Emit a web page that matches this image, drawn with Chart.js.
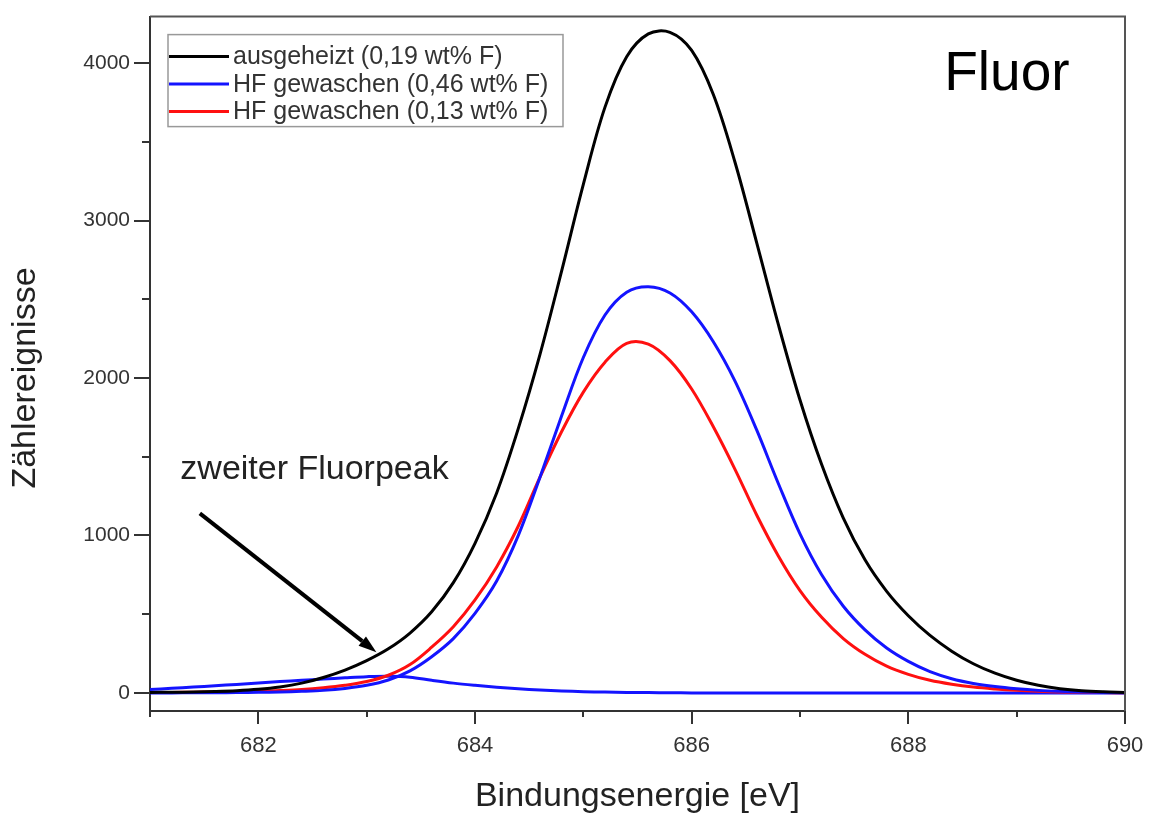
<!DOCTYPE html>
<html><head><meta charset="utf-8">
<script src="https://cdn.jsdelivr.net/npm/chart.js@4.4.1/dist/chart.umd.min.js"></script>
<style>html,body{margin:0;padding:0;background:#fff;}#wrap{width:1154px;height:817px;}</style>
</head><body><div id="wrap"><canvas id="c" width="1154" height="817"></canvas></div>
<script>
// ---- data ----
const energies = [681.0,681.2,681.4,681.6,681.8,682.0,682.2,682.4,682.6,682.8,683.0,683.2,683.4,683.6,683.8,684.0,684.2,684.4,684.6,684.8,685.0,685.2,685.4,685.6,685.8,686.0,686.2,686.4,686.6,686.8,687.0,687.2,687.4,687.6,687.8,688.0,688.2,688.4,688.6,688.8,689.0,689.2,689.4,689.6,689.8,690.0];
const seriesLabels = ['ausgeheizt (0,19 wt% F)','HF gewaschen (0,46 wt% F)','HF gewaschen (0,13 wt% F)'];
const ausgeheizt = [3,4,6,9,14,23,38,62,98,145,205,280,380,515,700,950,1270,1680,2150,2680,3230,3720,4040,4185,4195,4080,3800,3370,2860,2340,1860,1450,1110,845,645,490,365,265,185,125,80,48,27,14,7,3];
const hfGewaschen046 = [0,0,1,1,2,4,6,10,16,28,48,82,140,230,345,505,710,1000,1370,1760,2130,2400,2545,2580,2540,2420,2230,1980,1670,1330,1010,750,550,400,285,200,135,90,60,40,26,16,10,6,3,1];
const hfGewaschen013 = [2,3,4,6,8,11,15,21,32,48,72,112,180,290,420,590,800,1060,1370,1660,1910,2100,2220,2215,2110,1930,1690,1420,1130,870,650,480,345,245,170,118,80,55,37,25,16,10,6,4,2,1];
const zweiterFluorpeak = [22,29,37,45,54,63,72,80,88,96,103,106,100,80,62,48,36,26,18,12,8,5,3,2,1,0,0,0,0,0,0,0,0,0,0,0,0,0,0,0,0,0,0,0,0,0];
const xTickValues = [681,682,683,684,685,686,687,688,689,690];
const xTickLabels = ['','682','','684','','686','','688','','690'];
const yTickValues = [0,500,1000,1500,2000,2500,3000,3500,4000];
const yTickLabels = ['0','','1000','','2000','','3000','','4000'];
const xAxisTitle = 'Bindungsenergie [eV]';
const yAxisTitle = 'Zählereignisse';
const panelTitle = 'Fluor';
const arrowLabel = 'zweiter Fluorpeak';
const arrowFrom = {x: 681.46, y: 1140};
const arrowTo = {x: 683.09, y: 258};
const arrowLabelPos = {x: 681.28, y: 1417};
const panelTitlePos = {x: 688.91, y: 3924};

const FONT = "'Liberation Sans', Arial, sans-serif";
const colors = ['#000000', '#1414ff', '#ff1010'];
const pts = arr => energies.map((e, i) => ({x: e, y: arr[i]}));

const ds = (label, arr, color) => ({
  label, data: pts(arr), borderColor: color, backgroundColor: color,
  borderWidth: 3, pointRadius: 0, fill: false, tension: 0.35
});

const extras = {
  id: 'extras',
  afterDraw(chart) {
    const {ctx, chartArea: a, scales: {x, y}} = chart;
    ctx.save();
    // frame top & right
    ctx.strokeStyle = '#555'; ctx.lineWidth = 2;
    ctx.beginPath(); ctx.moveTo(a.left, a.top); ctx.lineTo(a.right, a.top); ctx.lineTo(a.right, a.bottom); ctx.stroke();
    // tick marks
    ctx.strokeStyle = '#333'; ctx.lineWidth = 2;
    yTickValues.forEach((v, i) => {
      const py = Math.round(y.getPixelForValue(v));
      const len = yTickLabels[i] ? 16 : 8;
      ctx.beginPath(); ctx.moveTo(a.left - len, py); ctx.lineTo(a.left, py); ctx.stroke();
    });
    xTickValues.forEach((v, i) => {
      const px = Math.round(x.getPixelForValue(v));
      const len = xTickLabels[i] ? 13 : 6;
      ctx.beginPath(); ctx.moveTo(px, a.bottom); ctx.lineTo(px, a.bottom + len); ctx.stroke();
    });
    // axis titles
    ctx.fillStyle = '#222'; ctx.font = '34px ' + FONT; ctx.textAlign = 'center'; ctx.textBaseline = 'middle';
    ctx.fillText(xAxisTitle, (a.left + a.right) / 2, 797);
    ctx.save(); ctx.translate(26, 378); ctx.rotate(-Math.PI / 2); ctx.fillText(yAxisTitle, 0, 0); ctx.restore();
    // legend box
    const lx = a.left + 18, ly = a.top + 18, lw = 395, lh = 92;
    ctx.fillStyle = '#fff'; ctx.fillRect(lx, ly, lw, lh);
    ctx.strokeStyle = '#999'; ctx.lineWidth = 1.5; ctx.strokeRect(lx, ly, lw, lh);
    ctx.font = '25px ' + FONT; ctx.textBaseline = 'middle'; ctx.textAlign = 'left';
    seriesLabels.forEach((t, i) => {
      const yy = ly + 22 + i * 27.5;
      ctx.strokeStyle = colors[i]; ctx.lineWidth = 3;
      ctx.beginPath(); ctx.moveTo(lx + 1, yy); ctx.lineTo(lx + 61, yy); ctx.stroke();
      ctx.fillStyle = '#333'; ctx.fillText(t, lx + 65, yy + 1);
    });
    // panel title
    ctx.fillStyle = '#000'; ctx.font = '55px ' + FONT; ctx.textAlign = 'center';
    ctx.fillText(panelTitle, x.getPixelForValue(panelTitlePos.x), y.getPixelForValue(panelTitlePos.y));
    // arrow label
    ctx.fillStyle = '#222'; ctx.font = '34px ' + FONT; ctx.textAlign = 'left';
    ctx.fillText(arrowLabel, x.getPixelForValue(arrowLabelPos.x), y.getPixelForValue(arrowLabelPos.y));
    // arrow
    const x0 = x.getPixelForValue(arrowFrom.x), y0 = y.getPixelForValue(arrowFrom.y);
    const x1 = x.getPixelForValue(arrowTo.x), y1 = y.getPixelForValue(arrowTo.y);
    const ang = Math.atan2(y1 - y0, x1 - x0);
    const hl = 18, hw = 6;
    const bx = x1 - hl * Math.cos(ang), by = y1 - hl * Math.sin(ang);
    ctx.strokeStyle = '#000'; ctx.lineWidth = 4; ctx.lineCap = 'butt';
    ctx.beginPath(); ctx.moveTo(x0, y0); ctx.lineTo(bx, by); ctx.stroke();
    ctx.fillStyle = '#000';
    ctx.beginPath(); ctx.moveTo(x1, y1);
    ctx.lineTo(bx + hw * Math.sin(ang), by - hw * Math.cos(ang));
    ctx.lineTo(bx - hw * Math.sin(ang), by + hw * Math.cos(ang));
    ctx.closePath(); ctx.fill();
    ctx.restore();
  }
};

new Chart(document.getElementById('c'), {
  type: 'line',
  data: { datasets: [
    ds(seriesLabels[0], ausgeheizt, colors[0]),
    ds(seriesLabels[1], hfGewaschen046, colors[1]),
    ds(seriesLabels[2], hfGewaschen013, colors[2]),
    ds('zweiter Fluorpeak', zweiterFluorpeak, colors[1])
  ]},
  options: {
    responsive: false, animation: false, devicePixelRatio: 1,
    layout: { padding: { left: 0, top: 11, right: 29, bottom: 0 } },
    plugins: { legend: { display: false }, tooltip: { enabled: false } },
    scales: {
      x: {
        type: 'linear', min: 681, max: 690,
        afterBuildTicks: s => { s.ticks = xTickValues.map(v => ({value: v})); },
        afterFit: s => { s.height = 106; },
        grid: { drawOnChartArea: false, drawTicks: true, tickLength: 13, color: 'rgba(0,0,0,0)' },
        border: { display: true, color: '#333', width: 2 },
        ticks: { autoSkip: false, maxRotation: 0, padding: 9, color: '#333', font: { family: FONT, size: 22 },
          callback: (v) => xTickLabels[xTickValues.indexOf(v)] ?? '' },
        title: { display: false }
      },
      y: {
        type: 'linear', min: -115, max: 4295,
        afterBuildTicks: s => { s.ticks = yTickValues.map(v => ({value: v})); },
        afterFit: s => { s.width = 150; },
        grid: { drawOnChartArea: false, drawTicks: true, tickLength: 16, color: 'rgba(0,0,0,0)' },
        border: { display: true, color: '#333', width: 2 },
        ticks: { autoSkip: false, padding: 4, color: '#333', font: { family: FONT, size: 21 },
          callback: (v) => yTickLabels[yTickValues.indexOf(v)] ?? '' },
        title: { display: false }
      }
    }
  },
  plugins: [extras]
});
</script></body></html>
